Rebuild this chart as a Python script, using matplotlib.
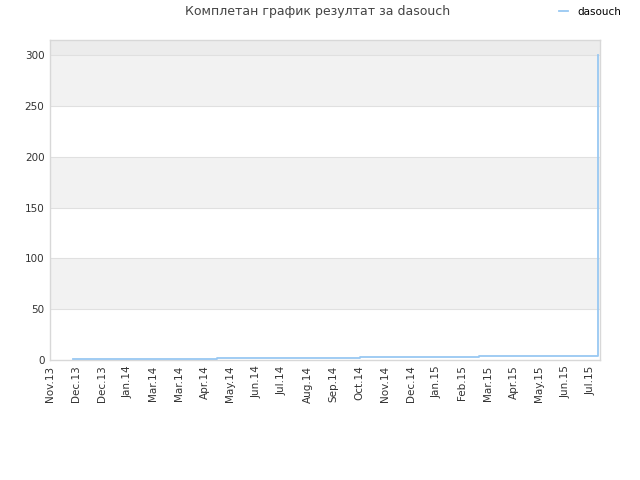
import matplotlib
matplotlib.use('Agg')
import matplotlib.pyplot as plt

# x positions are in "tick slots" (labels are evenly spaced)
tick_labels = ['Nov.13', 'Dec.13', 'Dec.13', 'Jan.14', 'Mar.14', 'Mar.14', 'Apr.14',
               'May.14', 'Jun.14', 'Jul.14', 'Aug.14', 'Sep.14', 'Oct.14', 'Nov.14',
               'Dec.14', 'Jan.15', 'Feb.15', 'Mar.15', 'Apr.15', 'May.15', 'Jun.15', 'Jul.15']
step_x = [0.89, 6.49, 12.04, 16.66, 21.27]
step_y = [1, 2, 3, 4, 300]
y_ticks = [0, 50, 100, 150, 200, 250, 300]

plt.rcParams['font.family'] = ['DejaVu Sans']
fig = plt.figure(figsize=(6.4, 4.8), dpi=100)
ax = fig.add_axes([50/640, 120/480, 550/640, 320/480])

ax.set_xlim(0, 21.35)
ax.set_ylim(0, 315)

# alternating bands
for lo in [50, 150, 250]:
    ax.axhspan(lo, lo + 50, color='#f2f2f2', zorder=0, lw=0)
ax.axhspan(300, 315, color='#ececec', zorder=0, lw=0)
for yv in y_ticks[1:]:
    ax.axhline(yv, color='#e0e0e0', lw=0.8, zorder=1)

ax.plot(step_x, step_y, drawstyle='steps-post', color='#99c8f2', lw=1.3, zorder=3,
        label='dasouch')

ax.set_xticks(range(len(tick_labels)))
ax.set_xticklabels(tick_labels, rotation=90, fontsize=7.5, color='#333333')
ax.set_yticks(y_ticks)
ax.set_yticklabels([str(v) for v in y_ticks], fontsize=7.5, color='#333333')
ax.tick_params(length=0, pad=4)
for s in ax.spines.values():
    s.set_color('#d8d8d8')
    s.set_linewidth(1)

fig.text(318/640, 1 - 12/480, 'Комплетан график резултат за dasouch', ha='center', va='center',
         fontsize=9, color='#444444')
fig.legend(loc='center', bbox_to_anchor=(590/640, 1 - 12/480), frameon=False, fontsize=7.5,
           handlelength=0.8, handletextpad=0.9)

fig.savefig('out.png', dpi=100)
